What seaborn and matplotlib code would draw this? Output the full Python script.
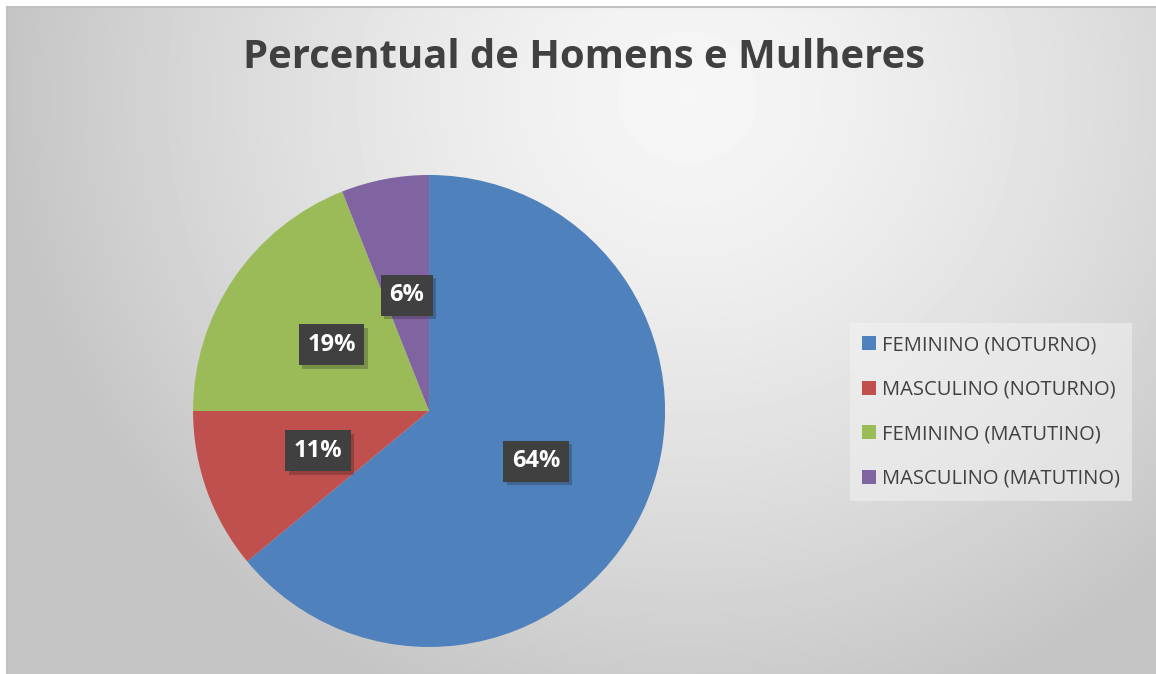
import numpy as np
import pandas as pd
import seaborn as sns
import matplotlib.pyplot as plt
from matplotlib import patheffects as pe

sns.set_style('white')
plt.rcParams['font.family'] = ['Open Sans', 'DejaVu Sans']

# data
categorias = ['FEMININO (NOTURNO)', 'MASCULINO (NOTURNO)',
              'FEMININO (MATUTINO)', 'MASCULINO (MATUTINO)']
percentuais = [64, 11, 19, 6]
cores = ['#4F81BD', '#C0504D', '#9BBB59', '#8064A2']
titulo = 'Percentual de Homens e Mulheres'

df = pd.DataFrame({'categoria': categorias, 'pct': percentuais})

fig = plt.figure(figsize=(11.56, 6.74), dpi=100)

# background: soft radial grey gradient, lightest under the title
bg = fig.add_axes([7 / 1156, 0, 1 - 7 / 1156, 1 - 7 / 674])
yy, xx = np.mgrid[0:667, 0:1149]
d = np.sqrt((xx - 680) ** 2 + ((yy - 90) * 1.05) ** 2)
val = 0.965 - 0.17 * np.clip(d / 620, 0, 1.1) ** 1.4
bg.imshow(val, cmap='gray', vmin=0, vmax=1, aspect='auto', interpolation='bilinear')
bg.set_axis_off()
fig.add_artist(plt.Line2D([7 / 1156, 7 / 1156], [0, 1 - 7 / 674], color='#c0c0c0', lw=1.5))
fig.add_artist(plt.Line2D([7 / 1156, 1], [1 - 7 / 674, 1 - 7 / 674], color='#c0c0c0', lw=1.5))

fig.text(584 / 1156, 1 - 57 / 674, titulo, ha='center', va='center',
         fontsize=28.8, fontweight='bold', color='#404040')

ax = fig.add_axes([0.1670, 0.0401, 0.4083, 0.7003])
wedges, texts, autotexts = ax.pie(df['pct'], colors=cores, startangle=90, counterclock=False,
                                  autopct=lambda p: '{:.0f}%'.format(p), pctdistance=0.5,
                                  wedgeprops=dict(linewidth=0))
ax.set_xlim(-1, 1)
ax.set_ylim(-1, 1)
ax.set_aspect('equal')

for t in autotexts:
    t.set_color('white')
    t.set_fontweight('bold')
    t.set_fontsize(17)
    t.set_bbox(dict(boxstyle='square,pad=0.36', facecolor='#404040', edgecolor='none'))
    t.get_bbox_patch().set_path_effects([pe.SimplePatchShadow(offset=(2.5, -2.5), alpha=0.25),
                                         pe.Normal()])

leg = fig.legend(wedges, df['categoria'], loc='center left',
                 bbox_to_anchor=(850 / 1156, 1 - 412 / 674), borderaxespad=0,
                 frameon=True, fontsize=14.5, handlelength=0.7, handleheight=0.7,
                 handletextpad=0.3, labelspacing=1.22, borderpad=0.6, labelcolor='#404040')
leg.get_frame().set_facecolor('#f2f2f2')
leg.get_frame().set_alpha(0.55)
leg.get_frame().set_edgecolor('none')
leg.get_frame().set_boxstyle('square', pad=0)

fig.savefig('out.png', dpi=100)
